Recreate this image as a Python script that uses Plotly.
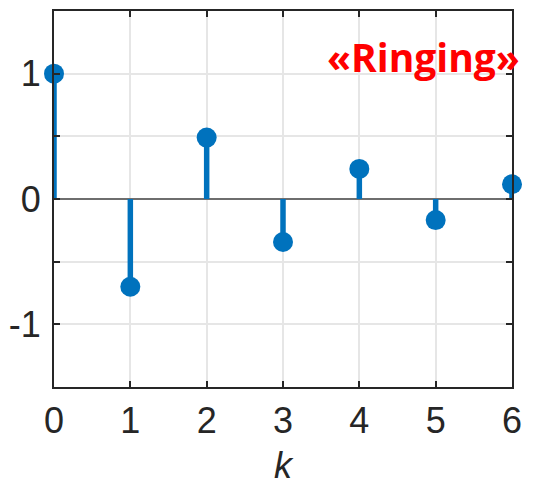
import plotly.graph_objects as go

k_values = [0, 1, 2, 3, 4, 5, 6]
y_values = [1.0, -0.7, 0.49, -0.343, 0.24, -0.168, 0.118]
y_tickvals = [-1.5, -1.0, -0.5, 0.0, 0.5, 1.0, 1.5]
y_ticktext = ["", "-1", "", "0", "", "1", ""]
x_tickvals = [0, 1, 2, 3, 4, 5, 6]
x_ticktext = ["0", "1", "2", "3", "4", "5", "6"]
annotation_text = "«Ringing»"
x_label = "k"

stem_color = "#0072BD"
axis_color = "#262626"

# Build stems (vertical segments from 0 to value) from the data
stem_x, stem_y = [], []
for k, v in zip(k_values, y_values):
    stem_x += [k, k, None]
    stem_y += [0, v, None]

fig = go.Figure()
fig.add_trace(go.Scatter(
    x=stem_x, y=stem_y, mode="lines",
    line=dict(color=stem_color, width=5.5),
    hoverinfo="skip", showlegend=False, cliponaxis=False,
))
fig.add_trace(go.Scatter(
    x=k_values, y=y_values, mode="markers",
    marker=dict(color=stem_color, size=20, line=dict(width=0)),
    showlegend=False, cliponaxis=False,
))

fig.add_annotation(
    x=0.807, y=0.879, xref="paper", yref="paper",
    text=annotation_text, showarrow=False,
    font=dict(family="Open Sans", size=39, color="#ff0000", weight="bold"),
    xanchor="center", yanchor="middle",
)

fig.update_layout(
    width=546, height=478,
    margin=dict(l=46, r=42, t=3, b=99, autoexpand=False),
    plot_bgcolor="white", paper_bgcolor="white",
    font=dict(family="Liberation Sans", color=axis_color, size=36),
    xaxis=dict(
        range=[0, 6], tickvals=x_tickvals, ticktext=x_ticktext,
        showgrid=True, gridcolor="#e6e6e6", gridwidth=1.5,
        showline=True, linecolor=axis_color, linewidth=2, mirror="ticks",
        ticks="inside", ticklen=6, tickwidth=2, tickcolor=axis_color,
        zeroline=False, ticklabelstandoff=1,
        title=dict(text="<i>" + x_label + "</i>", standoff=24,
                   font=dict(size=36, color=axis_color)),
    ),
    yaxis=dict(
        range=[-1.5, 1.5], tickvals=y_tickvals, ticktext=y_ticktext,
        showgrid=True, gridcolor="#e6e6e6", gridwidth=1.5,
        showline=True, linecolor=axis_color, linewidth=2, mirror="ticks",
        ticks="inside", ticklen=6, tickwidth=2, tickcolor=axis_color,
        zeroline=True, zerolinecolor="#6e6e6e", zerolinewidth=2,
        ticklabelstandoff=4,
    ),
)

fig.write_html("out.html")
